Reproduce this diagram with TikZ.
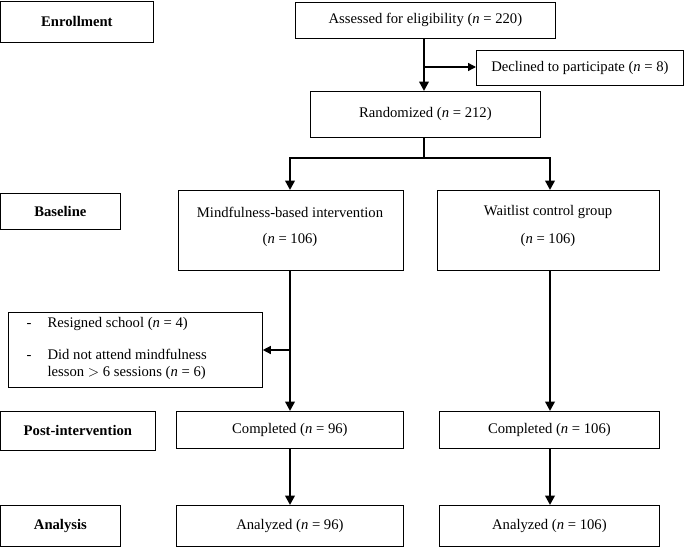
\documentclass[tikz,border=0pt]{standalone}
\usepackage{fontspec}
\setmainfont{Liberation Serif}
\usetikzlibrary{arrows.meta}
\begin{document}
\begin{tikzpicture}[x=0.75pt,y=-0.75pt,
 box/.style={draw,line width=0.6pt,font=\fontsize{11}{13}\selectfont},
 lab/.style={box,font=\fontsize{11}{13}\selectfont\bfseries},
 thick arrow/.style={line width=2.2pt,-{Triangle[length=7pt,width=7pt]}},
 thin arrow/.style={line width=1pt,-{Triangle[length=6pt,width=6pt]}}]
\useasboundingbox (0,0) rectangle (685,553);
\newcommand{\bx}[5]{\node[#1,minimum width={(#4-#2)*0.75pt},minimum height={(#5-#3)*0.75pt},inner sep=0pt,anchor=north west] at (#2,#3)}
\bx{lab}{0}{1}{153}{42} (enr) {Enrollment};
\bx{box}{295}{2}{555}{38} (ass) {Assessed for eligibility (\textit{n} = 220)};
\bx{box}{476}{50}{683}{85} (dec) {Declined to participate (\textit{n} = 8)};
\bx{box}{310}{91}{540}{137} (ran) {Randomized (\textit{n} = 212)};
\bx{lab}{0}{193}{120}{229} (base) {Baseline};
\bx{box}{178}{190}{403}{270} (mind) {};
\node[font=\fontsize{11}{13}\selectfont] at (290,212) {Mindfulness-based intervention};
\node[font=\fontsize{11}{13}\selectfont] at (290,240) {(\textit{n} = 106)};
\bx{box}{437}{190}{659}{270} (wait) {};
\node[font=\fontsize{11}{13}\selectfont] at (548,212) {Waitlist control group};
\node[font=\fontsize{11}{13}\selectfont] at (548,240) {(\textit{n} = 106)};
\bx{box}{8}{312}{262}{387} (side) {};
\node[font=\fontsize{11}{13}\selectfont,anchor=west] at (22,324) {-\hspace{12pt}Resigned school (\textit{n} = 4)};
\node[font=\fontsize{11}{13}\selectfont,anchor=north west,align=left] at (22,344) {-\hspace{12pt}Did not attend mindfulness\\\hphantom{-\hspace{12pt}}lesson $>$ 6 sessions (\textit{n} = 6)};
\bx{lab}{0}{411}{155}{450} (post) {Post-intervention};
\bx{box}{176}{411}{403}{448} (c1) {Completed (\textit{n} = 96)};
\bx{box}{439}{411}{659}{448} (c2) {Completed (\textit{n} = 106)};
\bx{lab}{0}{505}{120}{546} (ana) {Analysis};
\bx{box}{176}{505}{403}{546} (a1) {Analyzed (\textit{n} = 96)};
\bx{box}{439}{505}{659}{546} (a2) {Analyzed (\textit{n} = 106)};
\coordinate (j) at (424,67);
\draw[thick arrow] (ass.south -| j) -- (ran.north -| j);
\draw[thin arrow] (j) -- (dec.west |- j);
\coordinate (sp) at (424,158);
\draw[line width=2.2pt] (ran.south -| sp) -- (sp);
\draw[line width=2.2pt] (290,158) -- (550,158);
\draw[thick arrow] (290,157) -- (mind.north -| 290,0);
\draw[thick arrow] (550,157) -- (wait.north -| 550,0);
\draw[thick arrow] (mind.south -| 290,0) -- (c1.north -| 290,0);
\draw[thin arrow] (290,350) -- (side.east |- 0,350);
\draw[thick arrow] (wait.south -| 550,0) -- (c2.north -| 550,0);
\draw[thick arrow] (c1.south -| 290,0) -- (a1.north -| 290,0);
\draw[thick arrow] (c2.south -| 550,0) -- (a2.north -| 550,0);
\end{tikzpicture}
\end{document}
